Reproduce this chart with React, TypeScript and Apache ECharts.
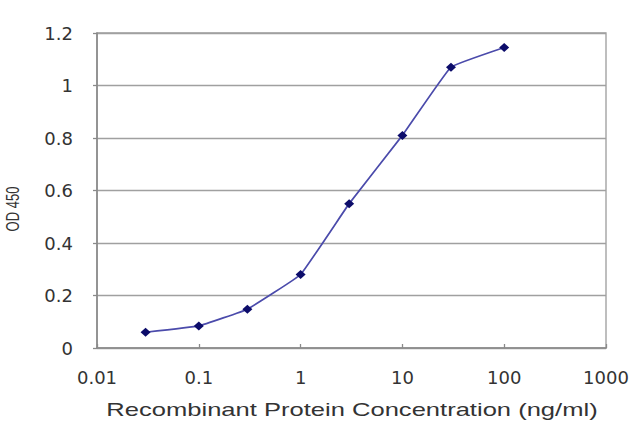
import React, { useEffect, useRef } from "react";
import * as echarts from "echarts";

// concentrations (ng/ml) and OD 450 readings
const concentrations = [0.03, 0.1, 0.3, 1, 3, 10, 30, 100];
const od450 = [0.06, 0.084, 0.148, 0.28, 0.55, 0.81, 1.07, 1.145];

const yTicks = [0, 0.2, 0.4, 0.6, 0.8, 1, 1.2];
const xTitle = "Recombinant Protein Concentration (ng/ml)";
const yTitle = "OD 450";

const App = () => {
  const chartRef = useRef<HTMLDivElement>(null);

  useEffect(() => {
    if (!chartRef.current) return;
    const chart = echarts.init(chartRef.current, null, { renderer: "svg" });

    const labelStyle = {
      fontFamily: "DejaVu Sans",
      fontSize: 18,
      color: "#333333",
    };

    const options = {
      animation: false,
      backgroundColor: "#ffffff",
      grid: {
        left: 97,
        right: 34,
        top: 33,
        bottom: 79,
        show: true,
        borderColor: "#9c9c9c",
        borderWidth: 1.3,
      },
      // stretched axis titles, like the original picture
      graphic: [
        {
          type: "text",
          x: 352,
          y: 410,
          scaleX: 1.42,
          style: {
            text: xTitle,
            font: "18px 'Liberation Sans'",
            fill: "#333333",
            textAlign: "center",
            textVerticalAlign: "middle",
          },
        },
        {
          type: "text",
          x: 12,
          y: 209,
          rotation: Math.PI / 2,
          scaleY: 1.45,
          style: {
            text: yTitle,
            font: "13px 'Liberation Sans'",
            fill: "#333333",
            textAlign: "center",
            textVerticalAlign: "middle",
          },
        },
      ],
      xAxis: {
        type: "log",
        logBase: 10,
        min: 0.01,
        max: 1000,
        axisLine: { show: true, lineStyle: { color: "#8a8a8a", width: 1.6 } },
        axisTick: { show: true, inside: true, length: 4, lineStyle: { color: "#8a8a8a", width: 1.3 } },
        axisLabel: {
          ...labelStyle,
          margin: 20,
          formatter: (v: number) => String(Number(v.toPrecision(3))),
        },
        splitLine: { show: false },
        minorTick: { show: false },
      },
      yAxis: {
        type: "value",
        min: yTicks[0],
        max: yTicks[yTicks.length - 1],
        interval: 0.2,
        axisLine: { show: true, lineStyle: { color: "#8a8a8a", width: 1.6 } },
        axisTick: { show: true, length: 4, lineStyle: { color: "#8a8a8a", width: 1.3 } },
        axisLabel: {
          ...labelStyle,
          margin: 24,
          formatter: (v: number) => String(Number(v.toFixed(1))),
        },
        splitLine: { show: true, lineStyle: { color: "#a0a0a0", width: 1.4 } },
      },
      series: [
        {
          type: "line",
          data: concentrations.map((c, i) => [c, od450[i]]),
          smooth: 0.08,
          symbol: "diamond",
          symbolSize: [10, 9],
          itemStyle: { color: "#0c0c6a" },
          lineStyle: { color: "#4b4bab", width: 1.7 },
        },
      ],
    };

    chart.setOption(options);

    const handleResize = () => chart.resize();
    window.addEventListener("resize", handleResize);
    return () => {
      window.removeEventListener("resize", handleResize);
      chart.dispose();
    };
  }, []);

  return (
    <div
      ref={chartRef}
      style={{ position: "absolute", left: 0, top: 0, width: "640px", height: "427px" }}
    />
  );
};

export default App;
